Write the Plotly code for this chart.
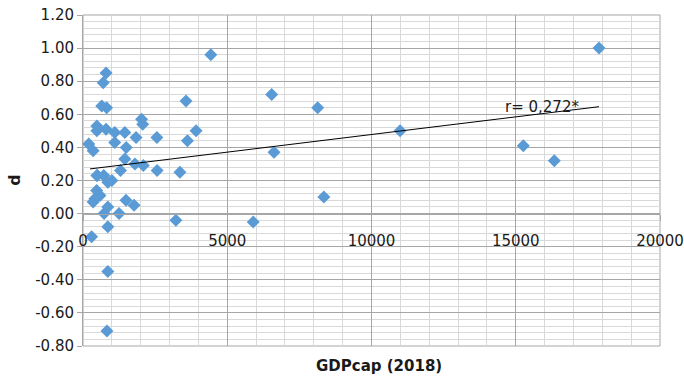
import numpy as np
import plotly.graph_objects as go

# GDP per capita (2018) and d values
gdp = [300, 200, 350, 480, 480, 650, 820, 700, 800, 800,
       1100, 1100, 1450, 1500, 1450, 1840, 2030, 2070, 2090, 1800,
       1300, 2560, 2570, 3360, 3570, 3620, 3920, 4430, 480, 720,
       860, 475, 410, 590, 350, 860, 730, 1250, 860, 1490,
       1770, 860, 830, 3220, 5900, 6540, 8135, 10990, 6620, 8350,
       17886, 15263, 16336, 500, 1000]
d = [-0.14, 0.42, 0.38, 0.53, 0.50, 0.65, 0.64, 0.79, 0.85, 0.51,
     0.49, 0.43, 0.49, 0.40, 0.33, 0.46, 0.57, 0.54, 0.29, 0.30,
     0.26, 0.46, 0.26, 0.25, 0.68, 0.44, 0.50, 0.96, 0.23, 0.23,
     0.19, 0.14, 0.09, 0.11, 0.07, 0.04, 0.00, 0.00, -0.08, 0.08,
     0.05, -0.35, -0.71, -0.04, -0.05, 0.72, 0.64, 0.50, 0.37, 0.10,
     1.00, 0.41, 0.32, 0.23, 0.20]

# trendline (as drawn in the chart)
trend_x = [243, 17886]
trend_y = [0.27, 0.646]
trend_label = "r= 0,272*"

x_ticks = [0, 5000, 10000, 15000, 20000]
y_ticks = [1.2, 1.0, 0.8, 0.6, 0.4, 0.2, 0.0, -0.2, -0.4, -0.6, -0.8]

FONT = "DejaVu Sans"
MAJOR = "#a6a6a6"
MINOR = "#d9d9d9"

fig = go.Figure()
fig.add_trace(go.Scatter(
    x=gdp, y=d, mode="markers",
    marker=dict(symbol="diamond", size=10, color="#5b9bd5", line=dict(width=0)),
    showlegend=False, cliponaxis=False))
fig.add_trace(go.Scatter(
    x=trend_x, y=trend_y, mode="lines",
    line=dict(color="black", width=1), showlegend=False))

fig.update_layout(
    width=684, height=380,
    margin=dict(l=83, r=24, t=15, b=34),
    paper_bgcolor="white", plot_bgcolor="white",
    font=dict(family=FONT, size=15, color="#1a1a1a"),
    xaxis=dict(
        range=[0, 20000], tickvals=x_ticks, ticktext=[str(v) for v in x_ticks],
        showgrid=True, gridcolor=MAJOR, gridwidth=1,
        minor=dict(dtick=1000, showgrid=True, gridcolor=MINOR, gridwidth=1),
        zeroline=False, anchor="free", position=0.4, automargin=False,
        showline=True, linecolor=MAJOR, ticks="outside", ticklen=6,
        tickcolor=MAJOR, ticklabelstandoff=7,
    ),
    yaxis=dict(
        range=[-0.8, 1.2], tickvals=y_ticks, ticktext=[f"{v:.2f}" for v in y_ticks],
        showgrid=True, gridcolor=MAJOR, gridwidth=1,
        minor=dict(dtick=0.04, showgrid=True, gridcolor=MINOR, gridwidth=1),
        zeroline=True, zerolinecolor=MAJOR, zerolinewidth=1, automargin=False,
        showline=True, linecolor=MAJOR, ticks="outside", ticklen=5,
        tickcolor=MAJOR,
    ),
    shapes=[dict(type="rect", xref="paper", yref="paper", x0=0, x1=1, y0=0, y1=1,
                 line=dict(color=MAJOR, width=1), layer="below")],
    annotations=[
        dict(text="<b>GDPcap (2018)</b>", xref="paper", yref="paper",
             x=0.513, y=-0.06, xanchor="center", yanchor="middle",
             showarrow=False, font=dict(size=15, family=FONT)),
        dict(text="<b>d</b>", xref="paper", yref="paper", x=-0.119, y=0.5,
             xanchor="center", yanchor="middle",
             textangle=-90, showarrow=False, font=dict(size=16, family=FONT)),
        dict(text=trend_label, xref="x", yref="y", x=15910, y=0.645,
             xanchor="center", yanchor="middle",
             showarrow=False, font=dict(size=15, family=FONT)),
    ],
)

fig.write_html("out.html", config={"displayModeBar": False},
               post_script="document.body.style.margin='0';document.body.style.overflow='hidden';")
